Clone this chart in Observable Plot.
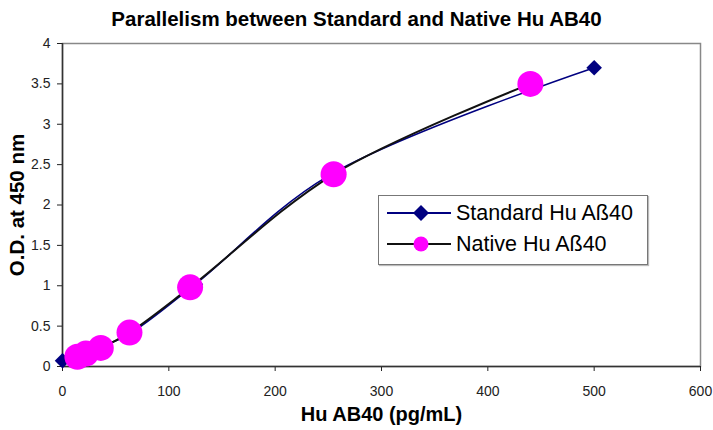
<!DOCTYPE html>
<html>
<head>
<meta charset="utf-8">
<script src="https://cdn.jsdelivr.net/npm/d3@7"></script>
<script src="https://cdn.jsdelivr.net/npm/@observablehq/plot@0.6"></script>
<style>
  html, body { margin: 0; padding: 0; background: #fff; }
  #wrap { position: relative; width: 713px; height: 430px; font-family: Arial, "Liberation Sans", sans-serif; }
  #title { height: 32px; width: 713px; text-align: center; font-weight: bold; font-size: 20.5px; line-height: 22px; padding-top: 8px; box-sizing: border-box; color: #000; white-space: nowrap; }
  #legend { position: absolute; left: 378px; top: 195px; width: 270px; height: 70px; box-sizing: border-box; border: 1.5px solid #777; background: #fff; box-shadow: 1px 1px 1px #bbb; }
  .item { position: absolute; left: 0; width: 100%; height: 30px; }
  .item svg { position: absolute; left: 8px; top: 0; }
  .item span { position: absolute; left: 77px; top: 3px; font-size: 21.5px; line-height: 24px; color: #000; white-space: nowrap; }
</style>
</head>
<body>
<div id="wrap">
  <div id="title"></div>
  <div id="chart"></div>
  <div id="legend"></div>
</div>
<script>
const titleText = "Parallelism between Standard and Native Hu AB40";
const xLabel = "Hu AB40 (pg/mL)";
const yLabel = "O.D. at 450 nm";
const seriesNames = ["Standard Hu A\u00df40", "Native Hu A\u00df40"];

const xTicks = [0, 100, 200, 300, 400, 500, 600];
const yTicks = [0, 0.5, 1, 1.5, 2, 2.5, 3, 3.5, 4];

const stdConc = [0, 7.8, 15.6, 31.25, 62.5, 125, 250, 500];
const stdOD   = [0.07, 0.10, 0.13, 0.22, 0.40, 1.02, 2.36, 3.70];

const natConc = [14, 22, 36, 63, 120, 255, 440];
const natOD   = [0.12, 0.16, 0.23, 0.42, 0.98, 2.38, 3.50];

const stdColor = "#000080";
const natLine = "#111111";
const natFill = "#ff00ff";

const std = stdConc.map((x, i) => ({x, y: stdOD[i]}));
const nat = natConc.map((x, i) => ({x, y: natOD[i]}));

document.getElementById("title").textContent = titleText;

const chart = Plot.plot({
  width: 713,
  height: 398,
  marginLeft: 62,
  marginRight: 13,
  marginTop: 11,
  marginBottom: 64,
  style: { fontFamily: "Arial, 'Liberation Sans', sans-serif", fontSize: "14px", color: "#222", background: "#fff" },
  x: { domain: [0, 600] },
  y: { domain: [0, 4] },
  marks: [
    Plot.frame({ stroke: "#888", strokeWidth: 1.5 }),
    Plot.axisX({ ticks: xTicks, tickSize: 5, tickPadding: 15, label: null, tickFormat: d => String(d) }),
    Plot.axisY({ ticks: yTicks, tickSize: 5, tickPadding: 7, label: null, tickFormat: d => String(d) }),
    Plot.ruleX([0], { stroke: "#333", strokeWidth: 1.5 }),
    Plot.ruleY([0], { stroke: "#333", strokeWidth: 1.5 }),
    Plot.line(std, { x: "x", y: "y", curve: "catmull-rom", stroke: stdColor, strokeWidth: 1.6 }),
    Plot.line(nat, { x: "x", y: "y", curve: "catmull-rom", stroke: natLine, strokeWidth: 2 }),
    Plot.dot(std, { x: "x", y: "y", symbol: "diamond2", r: 7, fill: stdColor, stroke: "none" }),
    Plot.dot(nat, { x: "x", y: "y", r: 13, fill: natFill, stroke: "none" }),
    Plot.text([xLabel], { frameAnchor: "bottom", textAnchor: "middle", dx: 0, dy: 54, fontWeight: "bold", fontSize: 20, fill: "#000" }),
    Plot.text([yLabel], { frameAnchor: "left", textAnchor: "middle", rotate: -90, dx: -45, dy: 0, fontWeight: "bold", fontSize: 20.5, fill: "#000" })
  ]
});
document.getElementById("chart").appendChild(chart);

// Legend (HTML overlay)
const legend = document.getElementById("legend");
const items = [
  { name: seriesNames[0], line: stdColor, sym: "diamond" },
  { name: seriesNames[1], line: natLine, sym: "circle" }
];
items.forEach((it, i) => {
  const div = document.createElement("div");
  div.className = "item";
  div.style.top = (1.5 + i * 31) + "px";
  const symbol = it.sym === "diamond"
    ? `<path d="M34,7 L42,15 L34,23 L26,15 Z" fill="${stdColor}"/>`
    : `<circle cx="34" cy="15" r="7.5" fill="${natFill}"/>`;
  div.innerHTML = `<svg width="66" height="30"><line x1="0" x2="64" y1="15" y2="15" stroke="${it.line}" stroke-width="2"/>${symbol}</svg><span></span>`;
  div.querySelector("span").textContent = it.name;
  legend.appendChild(div);
});
</script>
</body>
</html>
